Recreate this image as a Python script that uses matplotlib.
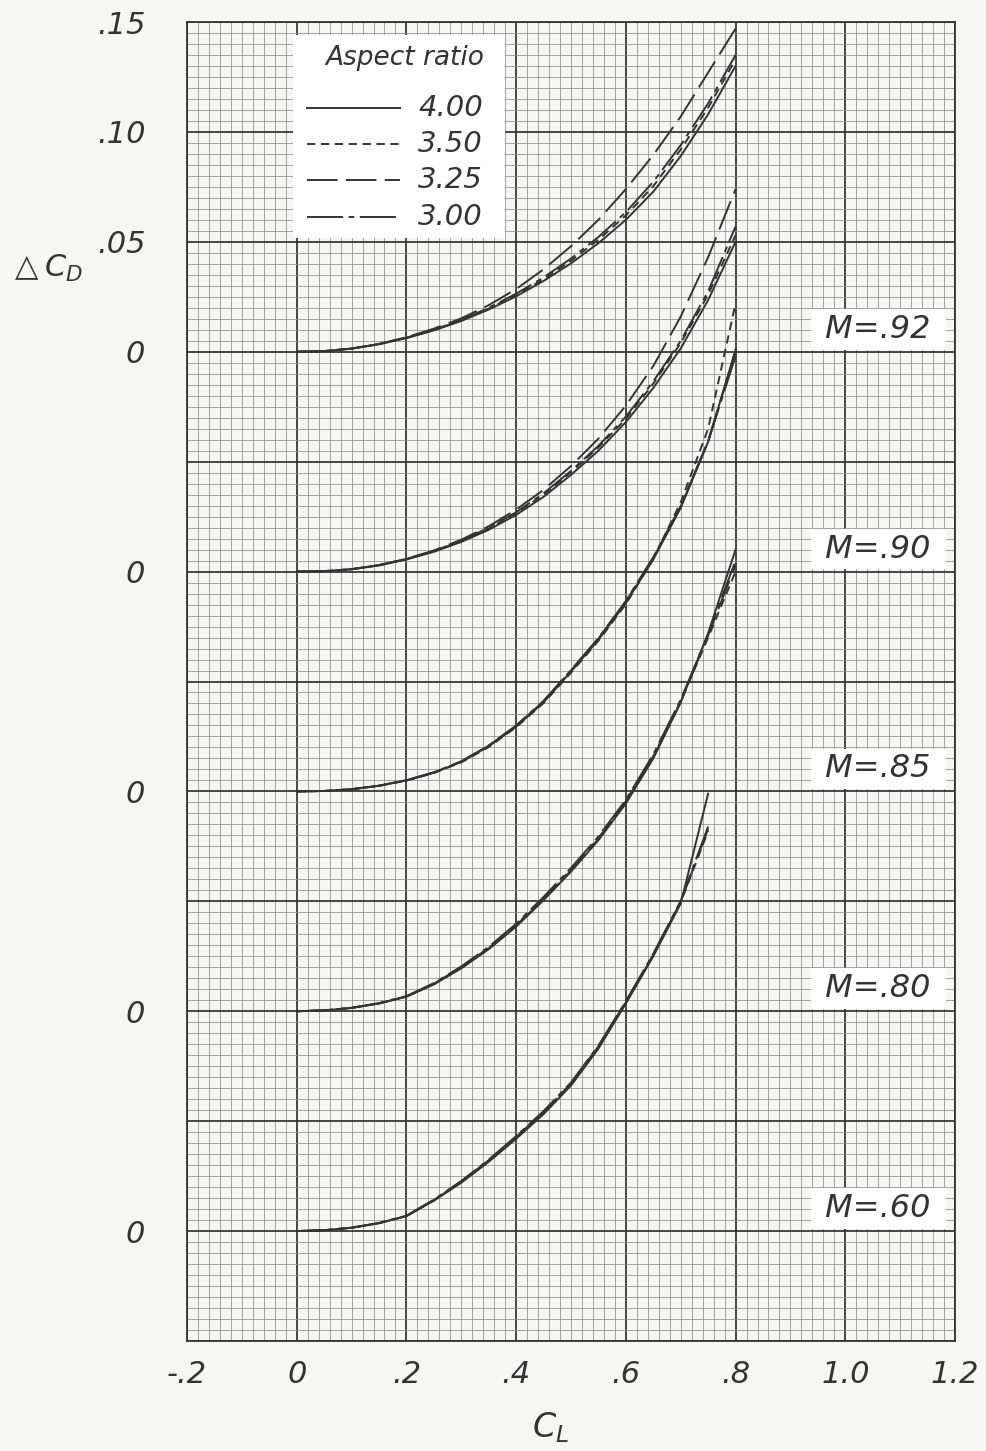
import numpy as np
import matplotlib
matplotlib.use("Agg")
import matplotlib.pyplot as plt
from matplotlib.ticker import MultipleLocator, FixedLocator, FuncFormatter
from matplotlib.patches import Rectangle
from matplotlib.lines import Line2D

plt.rcParams["font.family"] = ["DejaVu Sans"]
plt.rcParams["mathtext.fontset"] = "dejavusans"
plt.rcParams["lines.scale_dashes"] = False

# ---------- data (delta C_D, relative to its own zero) ----------
cl = [0.00, 0.05, 0.10, 0.15, 0.20, 0.25, 0.30, 0.35, 0.40,
      0.45, 0.50, 0.55, 0.60, 0.65, 0.70, 0.75, 0.80]
cl_60 = cl[:-1]

dcd_92_400 = [0, .0003, .0014, .0034, .0062, .0097, .0140, .0192, .0252, .0322, .0402, .0494, .0600, .0728, .0890, .1080, .1300]
dcd_92_350 = [0, .0003, .0014, .0035, .0063, .0099, .0143, .0196, .0258, .0330, .0414, .0510, .0620, .0753, .0920, .1110, .1330]
dcd_92_325 = [0, .0003, .0015, .0036, .0066, .0105, .0152, .0212, .0285, .0375, .0480, .0600, .0740, .0895, .1070, .1270, .1470]
dcd_92_300 = [0, .0003, .0014, .0035, .0064, .0100, .0145, .0200, .0264, .0338, .0424, .0522, .0635, .0773, .0940, .1130, .1350]

dcd_90_400 = [0, .0002, .0010, .0028, .0055, .0090, .0135, .0190, .0258, .0340, .0440, .0550, .0680, .0835, .1015, .1235, .1500]
dcd_90_350 = [0, .0002, .0011, .0029, .0057, .0093, .0139, .0196, .0266, .0350, .0452, .0565, .0695, .0855, .1040, .1260, .1530]
dcd_90_325 = [0, .0002, .0011, .0030, .0058, .0096, .0145, .0206, .0282, .0372, .0480, .0605, .0755, .0935, .1160, .1430, .1740]
dcd_90_300 = [0, .0002, .0011, .0029, .0057, .0094, .0141, .0199, .0270, .0356, .0458, .0572, .0705, .0865, .1050, .1275, .1570]

dcd_85_400 = [0, .0002, .0010, .0026, .0050, .0085, .0134, .0205, .0295, .0405, .0545, .0690, .0858, .1055, .1290, .1590, .2010]
dcd_85_350 = [0, .0002, .0010, .0025, .0049, .0084, .0132, .0202, .0292, .0402, .0540, .0685, .0852, .1058, .1315, .1650, .2220]
dcd_85_325 = [0, .0002, .0010, .0026, .0051, .0086, .0136, .0208, .0298, .0410, .0550, .0695, .0864, .1062, .1295, .1595, .2000]
dcd_85_300 = [0, .0002, .0010, .0026, .0051, .0087, .0137, .0209, .0300, .0412, .0552, .0698, .0866, .1066, .1298, .1592, .1980]

dcd_80_400 = [0, .0004, .0015, .0035, .0066, .0122, .0195, .0282, .0385, .0505, .0635, .0778, .0945, .1150, .1405, .1720, .2100]
dcd_80_350 = [0, .0004, .0015, .0036, .0067, .0125, .0200, .0288, .0393, .0514, .0645, .0788, .0955, .1160, .1410, .1700, .2000]
dcd_80_325 = [0, .0004, .0015, .0036, .0067, .0124, .0198, .0286, .0390, .0510, .0640, .0783, .0950, .1155, .1407, .1710, .2030]
dcd_80_300 = [0, .0004, .0016, .0037, .0069, .0128, .0204, .0293, .0398, .0520, .0652, .0795, .0962, .1168, .1418, .1715, .2050]

dcd_60_400 = [0, .0004, .0015, .0036, .0068, .0138, .0220, .0315, .0420, .0532, .0662, .0830, .1035, .1250, .1490, .1990]
dcd_60_350 = [0, .0004, .0015, .0036, .0068, .0140, .0224, .0320, .0426, .0540, .0670, .0838, .1040, .1255, .1495, .1820]
dcd_60_325 = [0, .0004, .0015, .0036, .0069, .0141, .0226, .0322, .0428, .0542, .0672, .0840, .1042, .1258, .1498, .1830]
dcd_60_300 = [0, .0004, .0016, .0037, .0070, .0143, .0228, .0325, .0432, .0546, .0676, .0844, .1046, .1262, .1502, .1840]

aspect_ratios = ["4.00", "3.50", "3.25", "3.00"]
mach_labels = ["M=.92", "M=.90", "M=.85", "M=.80", "M=.60"]
zero_offsets = [0.40, 0.30, 0.20, 0.10, 0.00]   # each panel shifted up by 0.10

x_ticks = [-0.2, 0, 0.2, 0.4, 0.6, 0.8, 1.0, 1.2]
x_ticklabels = ["-.2", "0", ".2", ".4", ".6", ".8", "1.0", "1.2"]

panels = [
    (cl, [dcd_92_400, dcd_92_350, dcd_92_325, dcd_92_300]),
    (cl, [dcd_90_400, dcd_90_350, dcd_90_325, dcd_90_300]),
    (cl, [dcd_85_400, dcd_85_350, dcd_85_325, dcd_85_300]),
    (cl, [dcd_80_400, dcd_80_350, dcd_80_325, dcd_80_300]),
    (cl_60, [dcd_60_400, dcd_60_350, dcd_60_325, dcd_60_300]),
]

# ---------- style ----------
paper = "#f6f6f4"
ink = "#333333"
styles = ["-", (0, (6, 4)), (0, (22, 6)), (0, (26, 4, 4, 4))]

fig = plt.figure(figsize=(9.86, 14.51), dpi=100, facecolor=paper)
ax = fig.add_axes([187/986, 1 - 1341/1451, (955 - 187)/986, (1341 - 22)/1451])
ax.set_facecolor(paper)
ax.set_xlim(-0.2, 1.2)
ax.set_ylim(-0.05, 0.55)

# graph-paper grid
ax.xaxis.set_major_locator(FixedLocator(x_ticks))
ax.xaxis.set_minor_locator(MultipleLocator(0.02))
ax.yaxis.set_major_locator(MultipleLocator(0.05))
ax.yaxis.set_minor_locator(MultipleLocator(0.005))
ax.grid(which="minor", color="#8e8e8e", lw=0.55)
ax.grid(which="major", color="#303030", lw=1.25)
ax.set_axisbelow(True)
for s in ax.spines.values():
    s.set_color("#303030")
    s.set_linewidth(1.25)


def ylab(y, pos):
    y = round(y, 3)
    if any(abs(y - z) < 1e-6 for z in zero_offsets):
        return "0"
    if y > zero_offsets[0]:
        return ("%.2f" % (y - zero_offsets[0]))[1:]
    return ""


ax.yaxis.set_major_formatter(FuncFormatter(ylab))
ax.set_xticklabels(x_ticklabels)
ax.tick_params(which="both", length=0)
ax.tick_params(axis="x", pad=14, labelsize=22, colors=ink)
ax.tick_params(axis="y", pad=30, labelsize=22, colors=ink)
for lab in ax.get_xticklabels() + ax.get_yticklabels():
    lab.set_fontstyle("italic")

# curves
for (xs, series), off in zip(panels, zero_offsets):
    for ys, ls in zip(series, styles):
        ax.plot(xs, np.array(ys) + off, color=ink, lw=1.4, linestyle=ls,
                solid_joinstyle="round", zorder=2)

# Mach labels
for lab, off in zip(mach_labels, zero_offsets):
    ax.text(1.06, off + 0.0032, " " + lab + " ", ha="center", va="bottom",
            fontsize=23, fontstyle="italic", color=ink, zorder=4,
            bbox=dict(boxstyle="square,pad=0.15", fc="white", ec="none"))

# legend box (drawn by hand to match the lettered key)
tr = ax.transAxes
ax.add_patch(Rectangle((0.138, 0.836), 0.276, 0.154, transform=tr,
                       fc="white", ec="none", zorder=3))
ax.text(0.284, 0.973, "Aspect ratio", transform=tr, ha="center", va="center",
        fontsize=19, fontstyle="italic", color=ink, zorder=4)
for i, (ar, ls) in enumerate(zip(aspect_ratios, styles)):
    yy = 0.935 - i * 0.0275
    ax.add_line(Line2D([0.156, 0.277], [yy, yy], transform=tr, color=ink,
                       lw=1.4, linestyle=ls, zorder=4))
    ax.text(0.301, yy, ar, transform=tr, ha="left", va="center",
            fontsize=21, fontstyle="italic", color=ink, zorder=4)

# axis titles
fig.text(46/986, 1 - 268/1451, r"$\triangle C_D$", fontsize=22,
         ha="center", va="center", color=ink)
fig.text(550/986, 1 - 1428/1451, r"$C_L$", fontsize=24,
         ha="center", va="center", color=ink)

fig.savefig("out.png", dpi=100, facecolor=paper)
